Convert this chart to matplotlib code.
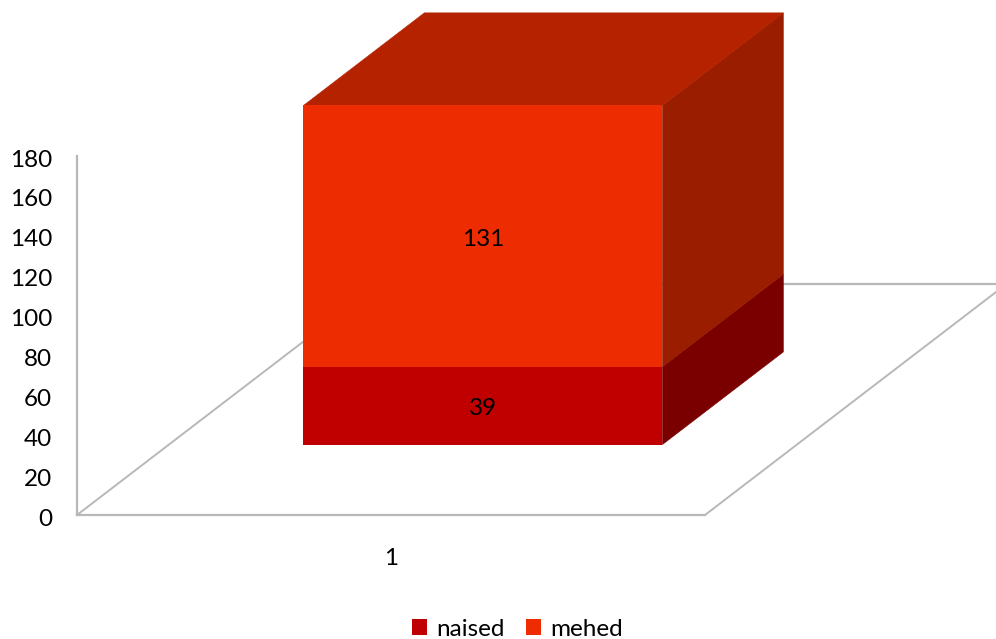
import matplotlib
matplotlib.use("Agg")
import matplotlib.pyplot as plt
from matplotlib.transforms import ScaledTranslation

plt.rcParams["font.family"] = ["Lato", "DejaVu Sans"]

categories = ["1"]
series_names = ["naised", "mehed"]
naised = [39]
mehed = [131]
y_ticks = [0, 20, 40, 60, 80, 100, 120, 140, 160, 180]

W, H = 996, 639

# oblique floor: how far one full unit of depth moves a point, in data units
DEPTH_X = 301.5 / 628
DEPTH_Y = 231 / 359 * 180
BAR_FRONT = 0.305
BAR_BACK = 0.706
BAR_WIDTH = 359 / 628

front_colors = ["#C00000", "#EE2C02"]
side_colors = ["#7A0000", "#9A1D00"]
top_color = "#B52200"
line_color = "#B8B8B8"
text_size = 17.5


def project(x, y, depth):
    return x + depth * DEPTH_X, y + depth * DEPTH_Y


fig = plt.figure(figsize=(W / 100, H / 100), dpi=100)
ax = fig.add_axes([77 / W, 1 - 515 / H, 628 / W, 359 / H])
ax.set_xlim(0, 1)
ax.set_ylim(0, 180)

for name in ["top", "right"]:
    ax.spines[name].set_visible(False)
for name in ["left", "bottom"]:
    ax.spines[name].set_color(line_color)
    ax.spines[name].set_linewidth(1.6)

ax.set_yticks(y_ticks)
ax.set_xticks([0.5])
ax.set_xticklabels(categories)
ax.tick_params(axis="y", length=0, pad=18, labelsize=text_size)
ax.tick_params(axis="x", length=0, pad=24, labelsize=text_size)

# y labels sit a touch below their tick position
nudge = ScaledTranslation(0, -1.5 / 72, fig.dpi_scale_trans)
for label in ax.get_yticklabels():
    label.set_transform(label.get_transform() + nudge)

# floor edges
floor = [(0, 0), (1, 0)]
for x0, y0 in floor:
    x1, y1 = project(x0, y0, 1)
    ax.plot([x0, x1], [y0, y1], color=line_color, lw=1.4, clip_on=False, zorder=1)
xa, ya = project(0, 0, 1)
xb, yb = project(1, 0, 1)
ax.plot([xa, xb], [ya, yb], color=line_color, lw=1.6, clip_on=False, zorder=1)

# stacked block, bottom segment first
x_left = 0.5 - BAR_WIDTH / 2
x_right = 0.5 + BAR_WIDTH / 2
base = 0
for i, values in enumerate([naised, mehed]):
    v = values[0]
    low = base
    high = base + v
    xf, yf = project(0.5, low, BAR_FRONT)

    # right side face
    side = [project(x_right, low, BAR_FRONT), project(x_right, low, BAR_BACK),
            project(x_right, high, BAR_BACK), project(x_right, high, BAR_FRONT)]
    ax.fill([p[0] for p in side], [p[1] for p in side], color=side_colors[i], lw=0.4,
            clip_on=False, zorder=3)

    ax.bar(xf, v, BAR_WIDTH, bottom=yf, color=front_colors[i], label=series_names[i],
           clip_on=False, zorder=3.5)

    ax.text(xf, yf + v / 2 - 1.5, str(v), ha="center", va="center", fontsize=text_size,
            color="black", zorder=4)
    base = high

# top face of the block
top = [project(x_left, base, BAR_FRONT), project(x_right, base, BAR_FRONT),
       project(x_right, base, BAR_BACK), project(x_left, base, BAR_BACK)]
ax.fill([p[0] for p in top], [p[1] for p in top], color=top_color, lw=0.4, clip_on=False, zorder=3)

fig.legend(loc="center", bbox_to_anchor=(517.5 / W, 1 - 629 / H), ncol=2, frameon=False,
           fontsize=text_size, handlelength=0.62, handleheight=0.62, handletextpad=0.4,
           columnspacing=0.85, borderpad=0)

fig.savefig("out.png", dpi=100)
